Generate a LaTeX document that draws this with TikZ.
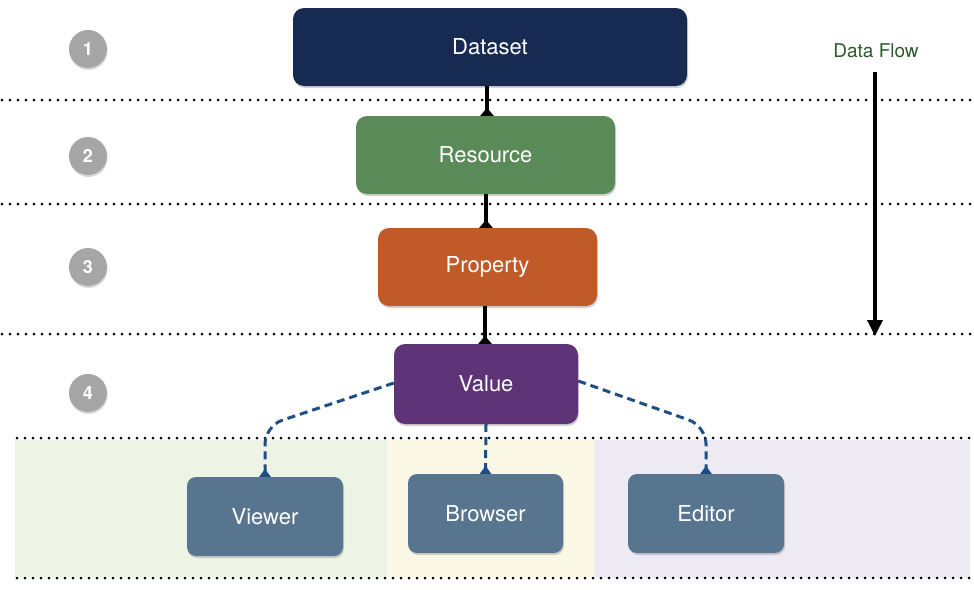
\documentclass[tikz,border=0pt]{standalone}
\usepackage{fontspec}
\setmainfont{TeX Gyre Heros}
\usetikzlibrary{arrows.meta,shadows}
\definecolor{dsblue}{HTML}{172A52}
\definecolor{resgreen}{HTML}{5A8A58}
\definecolor{proporange}{HTML}{C05A28}
\definecolor{valpurple}{HTML}{5E3378}
\definecolor{uiblue}{HTML}{587590}
\definecolor{dashblue}{HTML}{1F4E85}
\definecolor{bandgreen}{HTML}{EDF3E5}
\definecolor{bandyellow}{HTML}{FBF8E6}
\definecolor{bandpurple}{HTML}{EEEAF4}
\definecolor{flowgreen}{HTML}{2D5A2D}
\definecolor{numgrey}{HTML}{A6A6A6}
\tikzset{
  box/.style={rounded corners=11pt, draw=none, text=white, font=\fontsize{22}{24}\selectfont,
    drop shadow={shadow xshift=1pt, shadow yshift=-2pt, opacity=0.35}},
  num/.style={circle, fill=numgrey, minimum size=38pt, inner sep=0pt, text=white,
    font=\bfseries\fontsize{18}{20}\selectfont,
    drop shadow={shadow xshift=0.5pt, shadow yshift=-2pt, opacity=0.3}},
  sepline/.style={line width=3pt, dash pattern=on 0pt off 8pt, line cap=round},
  solidlink/.style={line width=3.5pt, -{Triangle[reversed,width=13pt,length=8pt]}},
  dashlink/.style={dashblue, line width=3pt, dash pattern=on 8pt off 5pt,
    -{Triangle[reversed,width=11pt,length=8pt]}},
}
\begin{document}
\begin{tikzpicture}[x=1pt,y=-1pt]
\useasboundingbox (0,0) rectangle (974,589);
% background bands
\fill[bandgreen] (15,440) rectangle (387,578);
\fill[bandyellow] (387,440) rectangle (594,578);
\fill[bandpurple] (594,440) rectangle (970,578);
% separator lines
\draw[sepline] (2,100) -- (972,100);
\draw[sepline] (2,204) -- (972,204);
\draw[sepline] (2,334) -- (972,334);
\draw[sepline] (17,438) -- (972,438);
\draw[sepline] (17,578) -- (972,578);
% number circles
\node[num] (n1) at (88,49) {1};
\node[num] (n2) at (88,156) {2};
\node[num] (n3) at (88,267) {3};
\node[num] (n4) at (88,393) {4};
% boxes
\node[box, fill=dsblue, minimum width=394pt, minimum height=78pt] (dataset) at (490,47) {Dataset};
\node[box, fill=resgreen, minimum width=259pt, minimum height=78pt] (resource) at (485.5,155) {Resource};
\node[box, fill=proporange, minimum width=219pt, minimum height=78pt] (property) at (487.5,267) {Property};
\node[box, fill=valpurple, minimum width=184pt, minimum height=80pt] (value) at (486,384) {Value};
\node[box, fill=uiblue, minimum width=156pt, minimum height=79pt, rounded corners=9pt] (viewer) at (265,516.5) {Viewer};
\node[box, fill=uiblue, minimum width=155pt, minimum height=79pt, rounded corners=9pt] (browser) at (485.5,513.5) {Browser};
\node[box, fill=uiblue, minimum width=156pt, minimum height=79pt, rounded corners=9pt] (editor) at (706,513.5) {Editor};
% solid links
\draw[solidlink] (dataset.south -| 487,0) -- (resource.north -| 487,0);
\draw[solidlink] (resource.south -| 486,0) -- (property.north -| 486,0);
\draw[solidlink] (property.south -| 485,0) -- (value.north -| 485,0);
% dashed links
\coordinate (vl) at (265,426);
\coordinate (er) at (706,426);
\draw[dashlink, rounded corners=18pt] (value.west |- 0,383) -- (vl) -- (viewer.north);
\draw[dashlink] (value.south) -- (browser.north);
\draw[dashlink, rounded corners=18pt] (value.east |- 0,381) -- (er) -- (editor.north);
% data flow
\node[text=flowgreen, font=\fontsize{19}{20}\selectfont] (flow) at (876,51) {Data Flow};
\coordinate (flowend) at (875,336);
\draw[line width=3.5pt, -{Triangle[width=15pt,length=16pt]}] (875,72) -- (flowend);
\end{tikzpicture}
\end{document}
